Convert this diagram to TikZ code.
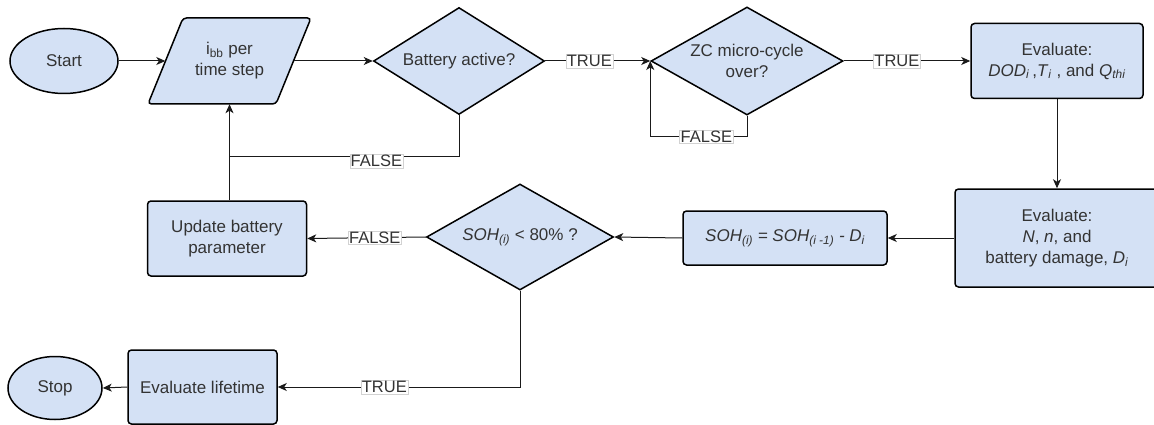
\documentclass[tikz,border=0pt]{standalone}
\usepackage{fontspec}
\setmainfont{Liberation Sans}
\usetikzlibrary{shapes.geometric,arrows.meta}
\definecolor{boxfill}{HTML}{D4E1F5}
\definecolor{ink}{HTML}{333333}
\definecolor{wire}{HTML}{1A1A1A}

\tikzset{
  base/.style={draw=black, line width=1.5pt, fill=boxfill, inner sep=0pt,
    align=center, text=ink},
  terminal/.style={base, ellipse},
  process/.style={base, rectangle, rounded corners=3.5pt},
  decision/.style={base, diamond},
  conn/.style={draw=wire, line width=1pt, -{Stealth[length=9pt,width=8pt,inset=2.5pt]}},
  plain/.style={draw=wire, line width=1pt},
  lbl/.style={fill=white, draw=gray!35, line width=0.4pt, inner sep=1pt,
    text=ink, font=\fontsize{16.5}{18}\selectfont},
}

\begin{document}
\begin{tikzpicture}[x=1pt, y=-1pt, font=\fontsize{17}{21}\selectfont]
\clip (0,0) rectangle (1154,425);

% input parallelogram outline
\draw[base, rounded corners=3.5pt] (183,18) -- (311,18) -- (276,104) -- (148,104) -- cycle;

% nodes
\node[terminal, minimum width=108, minimum height=65] (start) at (64,61) {Start};
\node[inner sep=0pt, minimum width=128, minimum height=86, align=center, text=ink]
  (io) at (229.5,61) {i\textsubscript{bb} per\\time step};
\node[decision, aspect=1.6, minimum width=171, minimum height=107] (d1) at (459,61) {Battery active?};
\node[decision, aspect=1.78, minimum width=192, minimum height=108] (d2) at (747,61) {ZC micro-cycle\\over?};
\node[process, minimum width=172, minimum height=75] (e1) at (1057,61)
  {Evaluate:\\\textit{DOD}\textsubscript{\textit{i}}\,,\textit{T}\textsubscript{\textit{i}} , and \textit{Q}\textsubscript{\textit{thi}}};
\node[process, minimum width=204, minimum height=98] (e2) at (1057,238)
  {Evaluate:\\\textit{N}, \textit{n}, and\\battery damage, \textit{D}\textsubscript{\textit{i}}};
\node[process, minimum width=204, minimum height=54] (soh) at (785,238)
  {\itshape SOH\textsubscript{(i)} = SOH\textsubscript{(i -1)} - D\textsubscript{i}};
\node[decision, aspect=1.76, minimum width=187, minimum height=106] (d3) at (520,237)
  {\textit{SOH}\textsubscript{\textit{(i)}} < 80\% ?};
\node[process, minimum width=159, minimum height=75] (upd) at (227,238.5)
  {Update battery\\parameter};
\node[process, minimum width=149, minimum height=74] (life) at (202.5,387) {Evaluate lifetime};
\node[terminal, minimum width=94, minimum height=63] (stop) at (55,388) {Stop};

\coordinate (j) at (229.5,157);

% connectors
\draw[conn] (start) -- (io.west);
\draw[conn] (io.east) -- (d1.west);
\draw[conn] (d1.east) -- node[lbl, pos=0.42] {TRUE} (d2.west);
\draw[conn] (d2.east) -- node[lbl, pos=0.42] {TRUE} (e1.west);
\draw[conn] (d2.south) -- ++(0,21) -| node[lbl, pos=0.21] {FALSE} (d2.west);
\draw[plain] (d1.south) |- node[lbl, pos=0.68, yshift=-4pt] {FALSE} (j);
\draw[conn] (e1.south) -- (e2.north);
\draw[conn] (e2.west) -- (soh.east);
\draw[conn] (soh.west) -- (d3.east);
\draw[conn] (d3.west) -- node[lbl, pos=0.43] {FALSE} (upd.east);
\draw[conn] (io.south |- upd.north) -- (io.south);
\draw[conn] (d3.south) |- node[lbl, pos=0.78] {TRUE} (life.east);
\draw[conn] (life.west) -- (stop.east);
\end{tikzpicture}
\end{document}
